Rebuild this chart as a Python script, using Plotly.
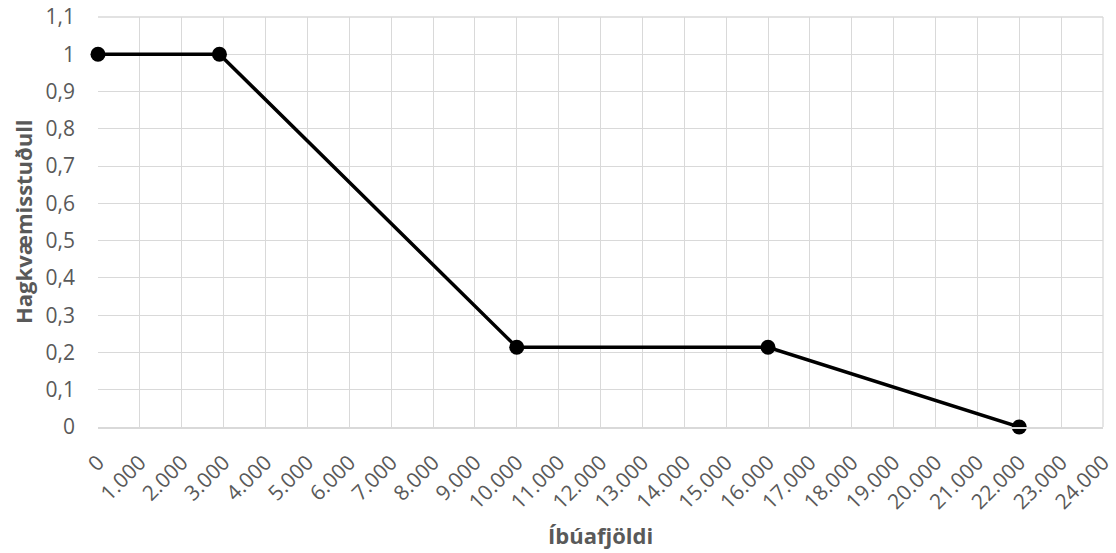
import plotly.graph_objects as go

x_vals = [0, 2900, 10000, 16000, 22000]
y_vals = [1.0, 1.0, 0.214, 0.214, 0.0]

x_tick_vals = list(range(0, 25000, 1000))
x_tick_text = ["0"] + [f"{v // 1000}.000" for v in x_tick_vals[1:]]
y_tick_vals = [0, 0.1, 0.2, 0.3, 0.4, 0.5, 0.6, 0.7, 0.8, 0.9, 1.0, 1.1]
y_tick_text = ["0", "0,1", "0,2", "0,3", "0,4", "0,5", "0,6", "0,7", "0,8", "0,9", "1", "1,1"]

x_title = "Íbúafjöldi"
y_title = "Hagkvæmisstuðull"

font_family = "'Open Sans', sans-serif"
grey = "#595959"
gridc = "#d9d9d9"

W, H = 1116, 553
L, R, T, B = 98, 13, 17, 126
pw, ph = W - L - R, H - T - B

fig = go.Figure()
fig.add_trace(go.Scatter(
    x=x_vals, y=y_vals, mode="lines+markers",
    line=dict(color="black", width=3.5),
    marker=dict(color="black", size=15),
    cliponaxis=False,
    showlegend=False,
))

fig.update_layout(
    width=W, height=H,
    margin=dict(l=L, r=R, t=T, b=B),
    paper_bgcolor="white", plot_bgcolor="white",
    font=dict(family=font_family, color=grey, size=21),
    xaxis=dict(
        range=[0, 24000], tickvals=x_tick_vals, ticktext=x_tick_text,
        tickangle=-45, showgrid=True, gridcolor=gridc, gridwidth=1.3,
        zeroline=False, showline=True, linecolor=gridc, linewidth=2,
        ticks="", ticklabelstandoff=13, automargin=False,
        ticklabeloverflow="allow",
    ),
    yaxis=dict(
        range=[0, 1.1], tickvals=y_tick_vals, ticktext=y_tick_text,
        showgrid=True, gridcolor=gridc, gridwidth=1.3,
        zeroline=False, showline=False, ticks="",
        ticklabelstandoff=22, automargin=False,
        ticklabeloverflow="allow",
    ),
    annotations=[
        dict(text=f"<b>{x_title}</b>", xref="paper", yref="paper",
             x=0.5, y=-(535 - 427) / ph, xanchor="center", yanchor="middle",
             showarrow=False, font=dict(size=22, color=grey)),
        dict(text=f"<b>{y_title}</b>", xref="paper", yref="paper",
             x=(23 - 98) / pw, y=0.5, xanchor="center", yanchor="middle",
             textangle=-90, showarrow=False, font=dict(size=22, color=grey)),
    ],
)
fig.add_shape(type="line", xref="paper", yref="paper", x0=1, x1=1, y0=0, y1=1,
              line=dict(color=gridc, width=1.3), layer="below")
fig.add_shape(type="line", xref="paper", yref="paper", x0=0, x1=1, y0=1, y1=1,
              line=dict(color=gridc, width=1.3), layer="below")

fig.write_html("out.html", config={"displayModeBar": False},
               post_script="document.body.style.margin='0';")
